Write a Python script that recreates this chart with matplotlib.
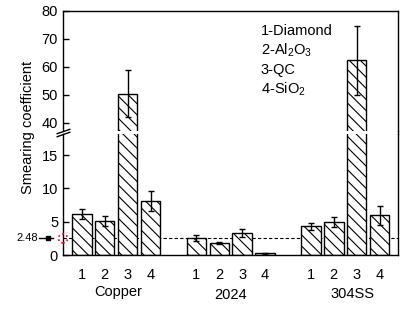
import numpy as np
import matplotlib
matplotlib.use('Agg')
import matplotlib.pyplot as plt
from matplotlib.patches import Ellipse
from matplotlib.lines import Line2D
import matplotlib.transforms as mtransforms

plt.rcParams['font.family'] = ['Liberation Sans', 'DejaVu Sans']
plt.rcParams['mathtext.default'] = 'regular'
plt.rcParams['hatch.linewidth'] = 0.8

groups = ['Copper', '2024', '304SS']
bar_labels = ['1', '2', '3', '4']
copper = [6.1, 5.05, 50.4, 8.05]
copper_err = [0.75, 0.75, 8.4, 1.5]
al2024 = [2.5, 1.8, 3.3, 0.25]
al2024_err = [0.45, 0.15, 0.6, 0.05]
ss304 = [4.3, 4.95, 62.4, 5.95]
ss304_err = [0.5, 0.7, 12.3, 1.4]
ref_value = 2.48
legend_lines = ['1-Diamond', '2-Al$_2$O$_3$', '3-QC', '4-SiO$_2$']

values = np.array(copper + al2024 + ss304)
errors = np.array(copper_err + al2024_err + ss304_err)
x = np.concatenate([np.arange(4) + 5 * g for g in range(3)])

fig = plt.figure(figsize=(4.09, 3.11), dpi=100)
ax_top = fig.add_axes([0.154, 0.579, 0.819, 0.3859])
ax_bot = fig.add_axes([0.154, 0.18, 0.819, 0.389])

for ax in (ax_top, ax_bot):
    ax.bar(x, values, width=0.85, color='white', edgecolor='black',
           linewidth=1, hatch='\\\\\\', zorder=2)
    ax.errorbar(x, values, yerr=errors, fmt='none', ecolor='black',
                elinewidth=1, capsize=2.2, capthick=1, zorder=3)
    ax.set_xlim(-0.82, 13.8)
    ax.tick_params(axis='y', direction='in', length=4, labelsize=10.5, width=1)
    for s in ax.spines.values():
        s.set_linewidth(1)

ax_top.set_ylim(37.14, 80)
ax_top.set_yticks([40, 50, 60, 70, 80])
ax_top.set_xticks([])
ax_top.spines['bottom'].set_visible(False)

ax_bot.set_ylim(0, 18.15)
ax_bot.set_yticks([0, 5, 10, 15])
ax_bot.spines['top'].set_visible(False)
ax_bot.set_xticks(x)
ax_bot.set_xticklabels(bar_labels * 3)
ax_bot.tick_params(axis='x', length=0, labelsize=10.5, pad=9)
ax_bot.axhline(ref_value, color='black', linewidth=0.8, dashes=(3, 2), zorder=1)

# group names under the tick labels
trans = mtransforms.blended_transform_factory(ax_bot.transData, fig.transFigure)
offsets = [0.1, 0.0, 0.3]
ys = [0.061, 0.051, 0.054]
for g, name in enumerate(groups):
    ax_bot.text(5 * g + 1.5 + offsets[g], ys[g], name, transform=trans,
                ha='center', va='center', fontsize=10.5)

# break marks on the left axis
kw = dict(marker=[(-1, -0.35), (1, 0.35)], markersize=10, linestyle='none',
          color='k', mec='k', mew=1, clip_on=False)
ax_top.plot([0], [0], transform=ax_top.transAxes, **kw)
ax_bot.plot([0], [1], transform=ax_bot.transAxes, **kw)
fig.add_artist(Line2D([0.973, 0.973], [0.569, 0.579], color='black',
                      linewidth=1, transform=fig.transFigure))

# 2.48 marker at the left axis
tb = mtransforms.blended_transform_factory(ax_bot.transAxes, ax_bot.transData)
ax_bot.plot([-0.072, -0.029], [ref_value, ref_value], color='black',
            linewidth=1, transform=tb, clip_on=False)
ax_bot.plot([-0.045], [ref_value], marker='s', markersize=3, color='black',
            transform=tb, clip_on=False)
ax_bot.text(-0.074, ref_value, '2.48', transform=tb, ha='right', va='center',
            fontsize=8)
ax_bot.add_patch(Ellipse((0, ref_value), 9 / 335, 9 / 6.667, transform=tb,
                         fill=False, edgecolor='red', linestyle=':',
                         linewidth=1.2, clip_on=False, zorder=5))

for i, line in enumerate(legend_lines):
    ax_top.text(0.59, 0.83 - i * 0.161, line, transform=ax_top.transAxes,
                ha='left', va='center', fontsize=10.5)

fig.text(0.068, 0.59, 'Smearing coefficient', rotation=90, ha='center',
         va='center', fontsize=10.5)

fig.savefig('out.png', dpi=100)
